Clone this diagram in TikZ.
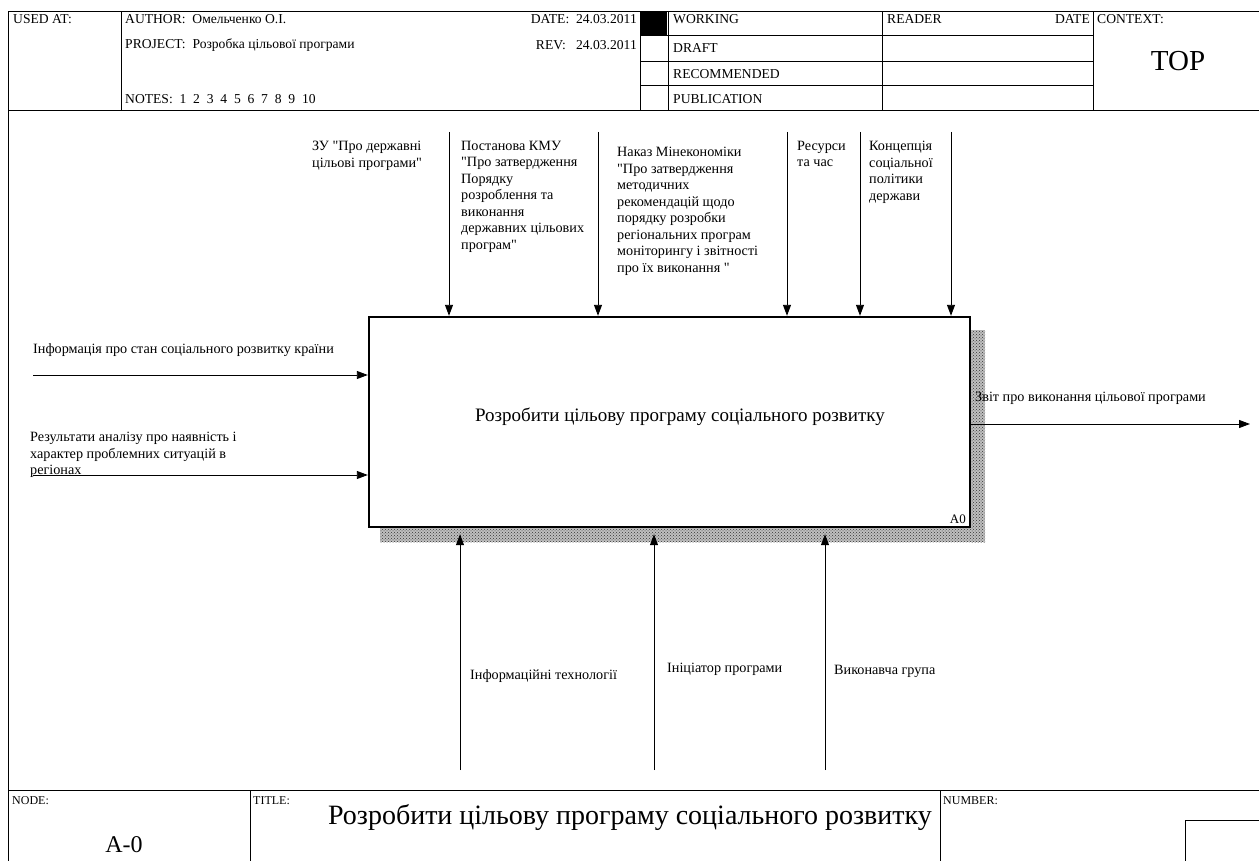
\documentclass[tikz,border=0pt]{standalone}
\usepackage{fontspec}
\setmainfont{Liberation Serif}[Ligatures=TeXOff]
\usetikzlibrary{arrows.meta,patterns}
\begin{document}
\begin{tikzpicture}[x=1pt,y=-1pt,
  frame/.style={line width=1pt},
  arr/.style={-{Triangle[length=11pt,width=8pt]}, line width=0.9pt},
  lbl/.style={anchor=north west, inner sep=0, align=left, font=\fontsize{14.2}{16.5}\selectfont},
  hdr/.style={anchor=west, inner sep=0, font=\fontsize{13.6}{15}\selectfont},
  small/.style={anchor=north west, inner sep=0, font=\fontsize{12}{13}\selectfont},
  shade/.style={fill=black!25, postaction={pattern=crosshatch dots, pattern color=black!80}},
  boxst/.style={draw, line width=2.4pt, fill=white, minimum width=601pt, minimum height=210pt, inner sep=0}]
\useasboundingbox (0,0) rectangle (1259,861);
\fill[white] (0,0) rectangle (1259,861);
% header frame
\draw[frame] (8,12) -- (1259,12);
\draw[frame] (8,111) -- (1259,111);
\draw[frame] (8,12) -- (8,861);
\draw[frame] (121,12) -- (121,111);
\draw[frame] (640,12) -- (640,111);
\draw[frame] (668,12) -- (668,111);
\draw[frame] (882,12) -- (882,111);
\draw[frame] (1093,12) -- (1093,111);
\draw[frame] (640,36) -- (1093,36);
\draw[frame] (640,62) -- (1093,62);
\draw[frame] (640,86) -- (1093,86);
\fill (641,12) rectangle (667,35);
% header texts
\node[hdr] (usedat) at (13,19) {USED AT:};
\node[hdr] (author) at (125,19) {AUTHOR:\ \ Омельченко О.І.};
\node[hdr] (project) at (125,45) {PROJECT:\ \ Розробка цільової програми};
\node[hdr] (notes) at (125,99) {NOTES:\ \ 1\ \ 2\ \ 3\ \ 4\ \ 5\ \ 6\ \ 7\ \ 8\ \ 9\ \ 10};
\node[hdr, anchor=east] (date) at (637,19) {DATE:\ \ 24.03.2011};
\node[hdr, anchor=east] (rev) at (637,45) {REV:\ \ \ 24.03.2011};
\node[hdr] (working) at (673,19) {WORKING};
\node[hdr] (draft) at (673,48) {DRAFT};
\node[hdr] (recom) at (673,74) {RECOMMENDED};
\node[hdr] (publ) at (673,99) {PUBLICATION};
\node[hdr] (reader) at (887,19) {READER};
\node[hdr, anchor=east] (rdate) at (1090,19) {DATE};
\node[hdr] (context) at (1097,19) {CONTEXT:};
\node[inner sep=0, font=\fontsize{29}{31}\selectfont] (top) at (1178,61) {TOP};
% footer
\draw[frame] (8,790) -- (1259,790);
\draw[frame] (250,790) -- (250,861);
\draw[frame] (940,790) -- (940,861);
\draw[frame] (1259,820) -- (1185,820) -- (1185,861);
\node[small] (nodel) at (12,796) {NODE:};
\node[small] (titlel) at (253,796) {TITLE:};
\node[small] (numl) at (943,796) {NUMBER:};
\node[inner sep=0, font=\fontsize{28}{30}\selectfont] (ftitle) at (630,817) {Розробити цільову програму соціального розвитку};
\node[inner sep=0, font=\fontsize{24}{26}\selectfont] (nodeid) at (124,845) {A-0};
% shadow
\fill[shade] (380,527) rectangle (985,542);
\fill[shade] (970,330) rectangle (985,542);
% main box
\node[boxst] (a0) at (669.5,422) {};
\node[inner sep=0, font=\fontsize{19}{21}\selectfont] (a0text) at (680,417) {Розробити цільову програму соціального розвитку};
\node[inner sep=0, anchor=south east, font=\fontsize{13}{14}\selectfont] (a0id) at (966,524) {A0};
% controls
\coordinate (c1) at (449,132);
\coordinate (c2) at (598,132);
\coordinate (c3) at (787,132);
\coordinate (c4) at (860,132);
\coordinate (c5) at (951,132);
\foreach \c in {c1,c2,c3,c4,c5} \draw[arr] (\c) -- (\c |- a0.north);
\node[lbl] (lc1) at (312,141) {ЗУ "Про державні\\цільові програми"};
\node[lbl] (lc2) at (461,141) {Постанова КМУ\\"Про затвердження\\Порядку\\розроблення та\\виконання\\державних цільових\\програм"};
\node[lbl] (lc3) at (617,147) {Наказ Мінекономіки\\"Про затвердження\\методичних\\рекомендацій щодо\\порядку розробки\\регіональних програм\\моніторингу і звітності\\про їх виконання "};
\node[lbl] (lc4) at (797,141) {Ресурси\\та час};
\node[lbl] (lc5) at (869,141) {Концепція\\соціальної\\політики\\держави};
% inputs
\coordinate (i1) at (33,375);
\coordinate (i2) at (33,475);
\draw[arr] (i1) -- (i1 -| a0.west);
\draw[arr] (i2) -- (i2 -| a0.west);
\node[lbl] (li1) at (33,343) {Інформація про стан соціального розвитку країни};
\node[lbl] (li2) at (30,432) {Результати аналізу про наявність і\\характер проблемних ситуацій в\\регіонах};
% output
\coordinate (o1) at (1250,424);
\draw[arr] (o1 -| a0.east) -- (o1);
\node[lbl] (lo1) at (975,392) {Звіт про виконання цільової програми};
% mechanisms
\coordinate (m1) at (460,770);
\coordinate (m2) at (654,770);
\coordinate (m3) at (825,770);
\foreach \m in {m1,m2,m3} \draw[arr] (\m) -- ([yshift=-6pt]\m |- a0.south);
\node[lbl] (lm1) at (470,669) {Інформаційні технології};
\node[lbl] (lm2) at (667,663) {Ініціатор програми};
\node[lbl] (lm3) at (834,665) {Виконавча група};
\end{tikzpicture}
\end{document}
